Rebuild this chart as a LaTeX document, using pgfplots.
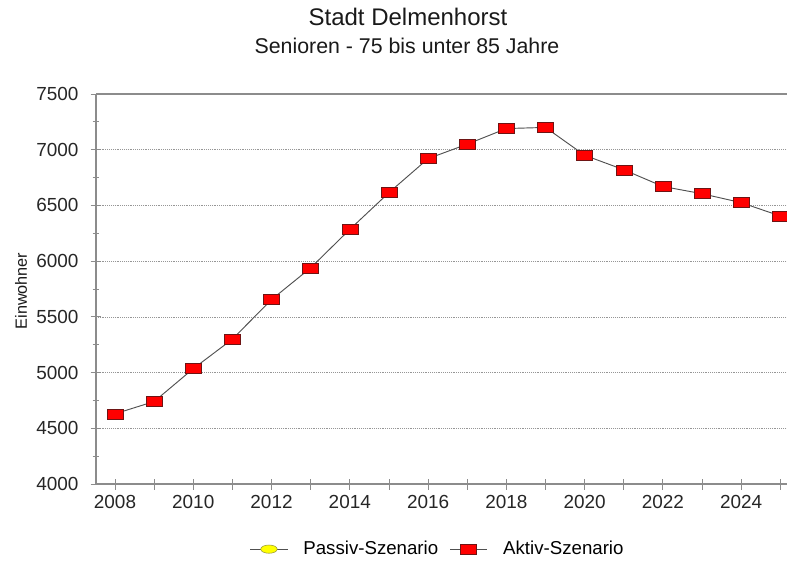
\documentclass[border=0pt]{standalone}
\usepackage{pgfplots}
\pgfplotsset{compat=1.18}
\usepackage{fontspec}
\setmainfont{Liberation Sans}
\definecolor{axisgray}{RGB}{140,140,140}
\definecolor{gridgray}{RGB}{150,150,150}
\definecolor{mred}{RGB}{255,0,0}
\definecolor{mredborder}{RGB}{110,20,20}
\definecolor{lineg}{RGB}{80,80,80}
\definecolor{myellow}{RGB}{255,255,0}
\definecolor{yborder}{RGB}{150,150,60}
\begin{document}
\begin{tikzpicture}[x=1pt,y=1pt]
\begin{axis}[
  at={(0pt,0pt)}, anchor=south west,
  scale only axis,
  width=518.25pt, height=292.5pt,
  xmin=2007.515, xmax=2025.17,
  ymin=4000, ymax=7500,
  axis x line*=bottom, axis y line*=left,
  axis line style={axisgray, line width=0.8pt},
  xtick={2008,2009,...,2025},
  xticklabels={2008,,2010,,2012,,2014,,2016,,2018,,2020,,2022,,2024,},
  ytick={4000,4500,...,7000},
  minor ytick={4250,4750,...,7250},
  extra y ticks={7500},
  extra y tick style={grid style={solid, axisgray, line width=0.8pt}},
  ymajorgrids,
  grid style={densely dotted, gridgray, line width=0.5pt},
  tick align=center,
  every tick/.style={axisgray, line width=0.6pt},
  major tick length=8.25pt, minor tick length=5.25pt,
  x tick label style={yshift=-1pt},
  y tick label style={/pgf/number format/1000 sep={}, xshift=-5.5pt},
  tick label style={font=\fontsize{14.2}{16}\selectfont, text=black!85},
  /pgf/number format/assume math mode=true,
  clip marker paths=true,
  legend columns=2,
  legend style={at={(axis description cs:0.495,-0.167)}, anchor=center, draw=none, fill=none,
    font=\fontsize{14}{16}\selectfont,
    /tikz/every even column/.append style={column sep=6.5pt}},
  legend image code/.code={\draw[mark repeat=2,mark phase=2,#1] plot coordinates {(0pt,0pt) (14pt,0pt) (28pt,0pt)}; \path (37.5pt,0pt);},
]
\addlegendimage{lineg, line width=0.6pt, mark=*, mark size=3.1pt, mark options={xscale=2, fill=myellow, draw=yborder, line width=0.4pt}}
\addlegendentry{Passiv-Szenario}
\addplot[lineg, line width=0.7pt, mark=square*, mark size=3.75pt,
  mark options={xscale=1.6, fill=mred, draw=mredborder, line width=0.4pt}]
  coordinates {
  (2008,4630) (2009,4740) (2010,5035) (2011,5300) (2012,5655) (2013,5940)
  (2014,6285) (2015,6615) (2016,6920) (2017,7050) (2018,7190) (2019,7200)
  (2020,6950) (2021,6820) (2022,6670) (2023,6605) (2024,6525) (2025,6405)
  };
\addlegendentry{Aktiv-Szenario}
\end{axis}
\node[font=\fontsize{18}{20}\selectfont, text=black!90] at (234pt,350.25pt) {Stadt Delmenhorst};
\node[font=\fontsize{16}{18}\selectfont, text=black!90] at (233.25pt,328.5pt) {Senioren - 75 bis unter 85 Jahre};
\node[font=\fontsize{12.2}{14}\selectfont, rotate=90, text=black!90] at (-56.25pt,144.75pt) {Einwohner};
\pgfresetboundingbox
\useasboundingbox (-72pt,-57.75pt) rectangle (518.25pt,363pt);
\end{tikzpicture}
\end{document}
